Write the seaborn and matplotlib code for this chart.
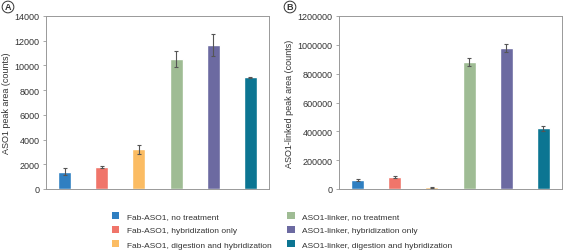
import pandas as pd
import seaborn as sns
import matplotlib.pyplot as plt
from matplotlib.patches import Patch

groups = ['Fab-ASO1, no treatment', 'Fab-ASO1, hybridization only',
          'Fab-ASO1, digestion and hybridization', 'ASO1-linker, no treatment',
          'ASO1-linker, hybridization only', 'ASO1-linker, digestion and hybridization']
colors = ['#2f7fc1', '#f0756a', '#fbbc63', '#9fbc94', '#6c6aa1', '#0c7592']

aso1_area = [1400, 1750, 3200, 10550, 11650, 9050]
aso1_err = [300, 80, 350, 650, 900, 50]
linked_area = [62000, 83000, 12000, 880000, 978000, 420000]
linked_err = [5000, 6000, 4000, 30000, 30000, 15000]

sns.set_style('white')
plt.rcParams['font.family'] = ['Liberation Sans', 'DejaVu Sans']

fig = plt.figure(figsize=(5.64, 2.51), dpi=100)
ax_a = fig.add_axes([46/564, 1 - 190/251, 223/564, 173/251])
ax_b = fig.add_axes([339/564, 1 - 190/251, 223/564, 173/251])

panels = [
    (ax_a, aso1_area, aso1_err, 'ASO1 peak area (counts)', 14000, 2000, 'A', 8),
    (ax_b, linked_area, linked_err, 'ASO1-linked peak area (counts)', 1200000, 200000, 'B', 290),
]

for ax, vals, errs, ylab, ymax, step, letter, lx in panels:
    df = pd.DataFrame({'group': groups, 'value': vals})
    sns.barplot(data=df, x='group', y='value', hue='group', palette=colors,
                width=0.35, legend=False, ax=ax, saturation=1)
    ax.errorbar(range(len(groups)), vals, yerr=errs, fmt='none',
                ecolor='#555555', elinewidth=0.8, capsize=1.5, capthick=0.8)
    ax.set_ylim(0, ymax)
    ax.set_xlim(-0.5, 5.5)
    ax.set_yticks(range(0, ymax + 1, step))
    ax.set_yticklabels([str(v) for v in range(0, ymax + 1, step)], fontsize=6.5, color='#333333')
    ax.set_xticks([])
    ax.set_xlabel('')
    ax.set_ylabel(ylab, fontsize=6.5, color='#333333', labelpad=3)
    ax.tick_params(axis='y', length=2.5, width=0.6, color='#999999', left=True, pad=2)
    for s in ax.spines.values():
        s.set_color('#999999')
        s.set_linewidth(0.7)
    fig.text(lx / 564, 1 - 8 / 251, letter, fontsize=6.5, ha='center', va='center',
             fontweight='bold', color='#333333',
             bbox=dict(boxstyle='circle,pad=0.15', fc='white', ec='#333333', lw=0.7))

handles = [Patch(facecolor=c, edgecolor='none') for c in colors]
fig.legend(handles, groups, loc='lower center', bbox_to_anchor=(0.5, -0.025), ncol=2,
           frameon=False, fontsize=6.0, handlelength=0.9, handleheight=0.9,
           handletextpad=0.9, columnspacing=1.9, labelspacing=0.72,
           labelcolor='#333333')

fig.savefig('out.png', dpi=100)
